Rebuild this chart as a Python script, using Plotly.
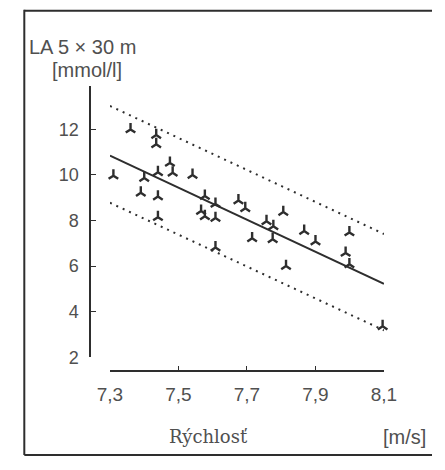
import plotly.graph_objects as go

# Data
speed = [7.31, 7.36, 7.39, 7.40, 7.435, 7.435, 7.44, 7.44, 7.44, 7.475, 7.483,
         7.541, 7.577, 7.566, 7.577, 7.608, 7.608, 7.608, 7.675, 7.695, 7.715,
         7.757, 7.777, 7.775, 7.806, 7.814, 7.867, 7.90, 7.999, 7.988, 7.999, 8.096]
lactate = [9.97, 12.0, 9.22, 9.87, 11.75, 11.35, 10.12, 9.05, 8.15, 10.53, 10.1,
           10.0, 9.08, 8.42, 8.19, 8.73, 8.11, 6.82, 8.88, 8.54, 7.22,
           7.97, 7.75, 7.18, 8.37, 6.0, 7.54, 7.08, 7.48, 6.58, 6.08, 3.36]

fit_x = [7.3, 8.1]
fit_y = [10.85, 5.22]
upper_y = [13.03, 7.41]
lower_y = [8.78, 3.18]

x_tickvals = [7.3, 7.5, 7.7, 7.9, 8.1]
x_ticktext = ["7,3", "7,5", "7,7", "7,9", "8,1"]
y_tickvals = [2, 4, 6, 8, 10, 12, 13.9]
y_ticktext = ["2", "4", "6", "8", "10", "12", ""]

W, H = 445, 470
INK = "#2e2e2e"
TXT = "#505050"

fig = go.Figure()
fig.add_trace(go.Scatter(x=fit_x, y=upper_y, mode="lines",
                         line=dict(color=INK, width=2, dash="2px,5px"), hoverinfo="skip"))
fig.add_trace(go.Scatter(x=fit_x, y=lower_y, mode="lines",
                         line=dict(color=INK, width=2, dash="2px,5px"), hoverinfo="skip"))
fig.add_trace(go.Scatter(x=fit_x, y=fit_y, mode="lines",
                         line=dict(color=INK, width=2), hoverinfo="skip"))
fig.add_trace(go.Scatter(x=speed, y=lactate, mode="markers", cliponaxis=False,
                         marker=dict(symbol="y-up", size=8, color=INK,
                                     line=dict(color=INK, width=2.4))))

fig.update_layout(
    width=W, height=H, margin=dict(l=0, r=0, t=0, b=0),
    paper_bgcolor="white", plot_bgcolor="rgba(0,0,0,0)", showlegend=False,
    font=dict(family="Liberation Sans, Arial, sans-serif", color=TXT),
    xaxis=dict(domain=[103 / W, 394 / W], range=[7.3, 8.1], anchor="free",
               position=(H - 379) / H, showgrid=False, zeroline=False,
               showline=True, linecolor=INK, linewidth=1.6,
               ticks="inside", ticklen=4, tickwidth=1.3, tickcolor=INK,
               tickvals=x_tickvals, ticktext=x_ticktext,
               tickfont=dict(size=19), ticklabelstandoff=6),
    yaxis=dict(domain=[(H - 365) / H, (H - 88) / H], range=[2, 13.9], anchor="free",
               position=82 / W, showgrid=False, zeroline=False,
               showline=True, linecolor=INK, linewidth=1.6,
               ticks="inside", ticklen=5, tickwidth=1.3, tickcolor=INK,
               tickvals=y_tickvals, ticktext=y_ticktext,
               tickfont=dict(size=18), ticklabelstandoff=7),
    shapes=[
        dict(type="line", xref="paper", yref="paper", x0=12 / W, x1=1, y0=(H - 11) / H, y1=(H - 11) / H,
             line=dict(color=INK, width=2)),
        dict(type="line", xref="paper", yref="paper", x0=12 / W, x1=12 / W, y0=(H - 465) / H, y1=(H - 10) / H,
             line=dict(color=INK, width=2)),
        dict(type="line", xref="paper", yref="paper", x0=12 / W, x1=1, y0=(H - 465) / H, y1=(H - 465) / H,
             line=dict(color=INK, width=2)),
    ],
    annotations=[
        dict(text="LA 5 × 30 m", xref="paper", yref="paper", x=15 / W, y=(H - 48) / H,
             xanchor="left", yanchor="middle", showarrow=False, font=dict(size=20)),
        dict(text="[mmol/l]", xref="paper", yref="paper", x=39 / W, y=(H - 72) / H,
             xanchor="left", yanchor="middle", showarrow=False, font=dict(size=20)),
        dict(text="Rýchlosť", xref="paper", yref="paper", x=164 / W, y=(H - 446) / H,
             xanchor="left", yanchor="middle", showarrow=False,
             font=dict(size=18, family="DejaVu Serif, serif")),
        dict(text="[m/s]", xref="paper", yref="paper", x=391 / W, y=(H - 447) / H,
             xanchor="left", yanchor="middle", showarrow=False, font=dict(size=20)),
    ],
)

fig.write_html("out.html", config={"displayModeBar": False},
               post_script="document.body.style.margin='0';document.body.style.overflow='hidden';")
